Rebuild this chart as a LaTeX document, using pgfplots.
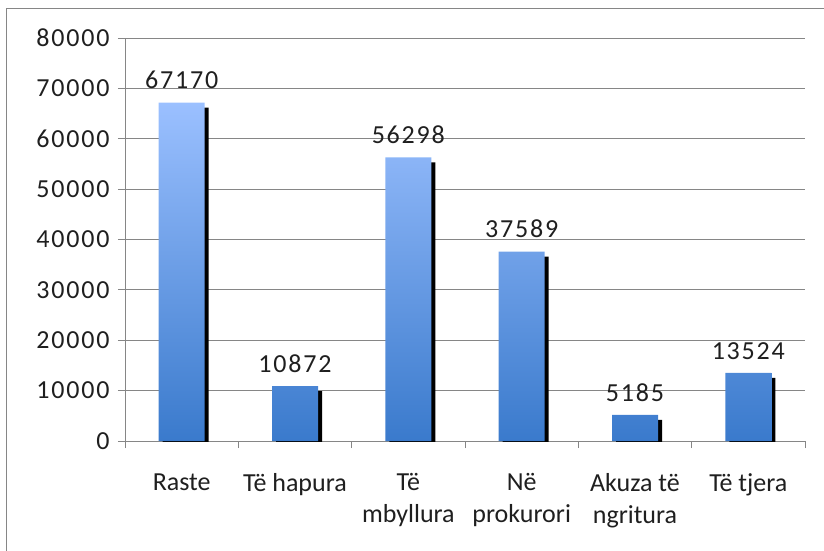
\documentclass[border=0pt]{standalone}
\usepackage{pgfplots}
\usepackage{pgfplotstable}
\pgfplotsset{compat=1.18}
\usepackage{fontspec}
\setmainfont{Carlito}
\newfontfamily\numfont[LetterSpace=7]{Carlito}
\definecolor{barTop}{RGB}{155,192,255}
\definecolor{barBot}{RGB}{58,122,204}
\definecolor{gridc}{RGB}{134,134,134}
\pgfplotstableread{
x y
0 67170
1 10872
2 56298
3 37589
4 5185
5 13524
}\datatable
\begin{document}
\begin{tikzpicture}
\path[use as bounding box] (-125pt,-109pt) rectangle (699pt,441pt);
\draw[gridc, line width=0.8pt] (-119pt,-120pt) -- (-119pt,433pt) -- (710pt,433pt);
\begin{axis}[
  at={(0pt,0pt)}, anchor=south west,
  scale only axis, width=680pt, height=403pt,
  xmin=-0.5, xmax=5.5, ymin=0, ymax=80000,
  axis x line*=bottom, axis y line*=left,
  axis line style={gridc, line width=0.8pt},
  ymajorgrids, major grid style={gridc, line width=0.8pt},
  ytick={0,10000,...,80000},
  scaled y ticks=false,
  yticklabel style={/pgf/number format/fixed, /pgf/number format/1000 sep={}, xshift=-5pt, font=\fontsize{26}{32}\numfont},
  /pgf/number format/assume math mode=true,
  xtick={0,...,5},
  xticklabels={Raste, Të hapura, Të\\mbyllura, Në\\prokurori, Akuza të\\ngritura, Të tjera},
  major x tick style={draw=none},
  minor xtick={-0.5,0.5,...,5.5},
  tick align=outside,
  tick style={gridc, line width=0.8pt},
  major tick length=7pt, minor tick length=7pt,
  ticklabel style={font=\fontsize{26}{32}\selectfont, text=black!88},
  xticklabel style={align=center, yshift=-22pt},
  enlargelimits=false,
]
\addplot[ybar, bar width=46pt, bar shift=0pt, fill=black, draw=none, xshift=4pt, yshift=-5pt]
  table[x=x, y=y] {\datatable};
\addplot[ybar, bar width=46pt, bar shift=0pt, draw=none, top color=barTop, bottom color=barBot,
  nodes near coords, point meta=explicit symbolic,
  nodes near coords style={font=\fontsize{26}{32}\numfont, text=black!88, anchor=south, yshift=10pt}]
  table[x=x, y=y, meta=y] {\datatable};
\end{axis}
\end{tikzpicture}
\end{document}
